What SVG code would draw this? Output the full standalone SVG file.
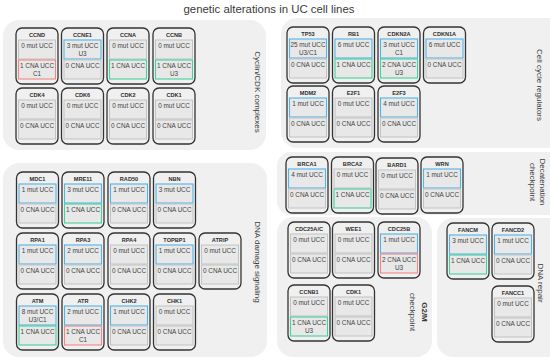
<svg xmlns="http://www.w3.org/2000/svg" width="550" height="361" viewBox="0 0 550 361">
<style>
text{font-family:"Liberation Sans","DejaVu Sans",sans-serif;fill:#3a3a3a}
.panel{fill:#f0f0f0;stroke:none}
.card{fill:#f0f0f0;stroke:#333333;stroke-width:1.3}
.t{font-size:5.6px;font-weight:bold;text-anchor:middle;fill:#2e2e2e}
.b{font-size:6.4px;text-anchor:middle;fill:#444444}
.g{fill:#e8e8e8;stroke:#c2c2c2;stroke-width:1}
.bl{fill:#e8e8e8;stroke:#52b4e6;stroke-width:1.1}
.gr{fill:#e8e8e8;stroke:#43d29c;stroke-width:1.1}
.rd{fill:#e8e8e8;stroke:#f08585;stroke-width:1.1}
.lab{font-size:8px;text-anchor:middle;dominant-baseline:central}
.title{font-size:11.4px;text-anchor:middle}
</style>
<defs>
<rect id="cd" class="card" x="0" y="0" width="42" height="56" rx="6"/>
</defs>
<rect width="550" height="361" fill="#ffffff"/>
<text class="title" x="269" y="13">genetic alterations in UC cell lines</text>

<g id="panels">
<rect class="panel" x="3" y="20" width="263" height="130" rx="16"/>
<rect class="panel" x="281" y="18" width="290" height="130" rx="16"/>
<rect class="panel" x="277" y="152" width="290" height="63" rx="14"/>
<rect class="panel" x="3" y="163" width="264" height="194" rx="16"/>
<rect class="panel" x="277" y="217" width="155" height="140" rx="16"/>
<rect class="panel" x="437" y="218" width="130" height="139" rx="16"/>
</g>

<g id="labels">
<text class="lab" transform="translate(257,92) rotate(90)">Cyclin/CDK complexes</text>
<text class="lab" transform="translate(539,85) rotate(90)">Cell cycle regulators</text>
<text class="lab" transform="translate(538,182) rotate(90)"><tspan x="0" dy="-5">Decatenation</tspan><tspan x="0" dy="10">checkpoint</tspan></text>
<text class="lab" transform="translate(257,262) rotate(90)">DNA damage signaling</text>
<text class="lab" transform="translate(419,312) rotate(90)"><tspan x="0" dy="-6" font-weight="bold">G2/M</tspan><tspan x="0" dy="12">checkpoint</tspan></text>
<text class="lab" transform="translate(540,283) rotate(90)">DNA repair</text>
</g>

<!-- Cyclin/CDK -->
<g id="CCND" transform="translate(16,28)"><use href="#cd"/><text class="t" x="21" y="9">CCND</text>
<rect class="g" x="2.5" y="12" width="37" height="19"/><text class="b" x="21" y="20">0 mut UCC</text>
<rect class="rd" x="2.5" y="32" width="37" height="19"/><text class="b" x="21" y="40">1 CNA UCC</text><text class="b" x="21" y="48">C1</text></g>
<g id="CCNE1" transform="translate(61.5,28)"><use href="#cd"/><text class="t" x="21" y="9">CCNE1</text>
<rect class="bl" x="2.5" y="12" width="37" height="19"/><text class="b" x="21" y="20">3 mut UCC</text><text class="b" x="21" y="28">U3</text>
<rect class="g" x="2.5" y="32" width="37" height="19"/><text class="b" x="21" y="40">0 CNA UCC</text></g>
<g id="CCNA" transform="translate(107,28)"><use href="#cd"/><text class="t" x="21" y="9">CCNA</text>
<rect class="g" x="2.5" y="12" width="37" height="19"/><text class="b" x="21" y="20">0 mut UCC</text>
<rect class="gr" x="2.5" y="32" width="37" height="19"/><text class="b" x="21" y="40">1 CNA UCC</text></g>
<g id="CCNB" transform="translate(153,28)"><use href="#cd"/><text class="t" x="21" y="9">CCNB</text>
<rect class="g" x="2.5" y="12" width="37" height="19"/><text class="b" x="21" y="20">0 mut UCC</text>
<rect class="gr" x="2.5" y="32" width="37" height="19"/><text class="b" x="21" y="40">1 CNA UCC</text><text class="b" x="21" y="48">U3</text></g>
<g id="CDK4" transform="translate(16,88)"><use href="#cd"/><text class="t" x="21" y="9">CDK4</text>
<rect class="g" x="2.5" y="12" width="37" height="19"/><text class="b" x="21" y="20">0 mut UCC</text>
<rect class="g" x="2.5" y="32" width="37" height="19"/><text class="b" x="21" y="40">0 CNA UCC</text></g>
<g id="CDK6" transform="translate(61.5,88)"><use href="#cd"/><text class="t" x="21" y="9">CDK6</text>
<rect class="g" x="2.5" y="12" width="37" height="19"/><text class="b" x="21" y="20">0 mut UCC</text>
<rect class="g" x="2.5" y="32" width="37" height="19"/><text class="b" x="21" y="40">0 CNA UCC</text></g>
<g id="CDK2" transform="translate(107,88)"><use href="#cd"/><text class="t" x="21" y="9">CDK2</text>
<rect class="g" x="2.5" y="12" width="37" height="19"/><text class="b" x="21" y="20">0 mut UCC</text>
<rect class="g" x="2.5" y="32" width="37" height="19"/><text class="b" x="21" y="40">0 CNA UCC</text></g>
<g id="CDK1a" transform="translate(153,88)"><use href="#cd"/><text class="t" x="21" y="9">CDK1</text>
<rect class="g" x="2.5" y="12" width="37" height="19"/><text class="b" x="21" y="20">0 mut UCC</text>
<rect class="g" x="2.5" y="32" width="37" height="19"/><text class="b" x="21" y="40">0 CNA UCC</text></g>

<!-- Cell cycle regulators -->
<g id="TP53" transform="translate(287,27)"><use href="#cd"/><text class="t" x="21" y="9">TP53</text>
<rect class="bl" x="2.5" y="12" width="37" height="19"/><text class="b" x="21" y="20">25 mut UCC</text><text class="b" x="21" y="28">U3/C1</text>
<rect class="g" x="2.5" y="32" width="37" height="19"/><text class="b" x="21" y="40">0 CNA UCC</text></g>
<g id="RB1" transform="translate(332.5,27)"><use href="#cd"/><text class="t" x="21" y="9">RB1</text>
<rect class="bl" x="2.5" y="12" width="37" height="19"/><text class="b" x="21" y="20">6 mut UCC</text>
<rect class="gr" x="2.5" y="32" width="37" height="19"/><text class="b" x="21" y="40">1 CNA UCC</text></g>
<g id="CDKN2A" transform="translate(378,27)"><use href="#cd"/><text class="t" x="21" y="9">CDKN2A</text>
<rect class="bl" x="2.5" y="12" width="37" height="19"/><text class="b" x="21" y="20">3 mut UCC</text><text class="b" x="21" y="28">C1</text>
<rect class="gr" x="2.5" y="32" width="37" height="19"/><text class="b" x="21" y="40">2 CNA UCC</text><text class="b" x="21" y="48">U3</text></g>
<g id="CDKN1A" transform="translate(423.5,27)"><use href="#cd"/><text class="t" x="21" y="9">CDKN1A</text>
<rect class="bl" x="2.5" y="12" width="37" height="19"/><text class="b" x="21" y="20">6 mut UCC</text>
<rect class="g" x="2.5" y="32" width="37" height="19"/><text class="b" x="21" y="40">0 CNA UCC</text></g>
<g id="MDM2" transform="translate(287,86)"><use href="#cd"/><text class="t" x="21" y="9">MDM2</text>
<rect class="bl" x="2.5" y="12" width="37" height="19"/><text class="b" x="21" y="20">1 mut UCC</text>
<rect class="g" x="2.5" y="32" width="37" height="19"/><text class="b" x="21" y="40">0 CNA UCC</text></g>
<g id="E2F1" transform="translate(332.5,86)"><use href="#cd"/><text class="t" x="21" y="9">E2F1</text>
<rect class="g" x="2.5" y="12" width="37" height="19"/><text class="b" x="21" y="20">0 mut UCC</text>
<rect class="g" x="2.5" y="32" width="37" height="19"/><text class="b" x="21" y="40">0 CNA UCC</text></g>
<g id="E2F3" transform="translate(378,86)"><use href="#cd"/><text class="t" x="21" y="9">E2F3</text>
<rect class="bl" x="2.5" y="12" width="37" height="19"/><text class="b" x="21" y="20">4 mut UCC</text>
<rect class="g" x="2.5" y="32" width="37" height="19"/><text class="b" x="21" y="40">0 CNA UCC</text></g>

<!-- Decatenation checkpoint -->
<g id="BRCA1" transform="translate(286,157)"><use href="#cd"/><text class="t" x="21" y="9">BRCA1</text>
<rect class="bl" x="2.5" y="12" width="37" height="19"/><text class="b" x="21" y="20">4 mut UCC</text>
<rect class="g" x="2.5" y="32" width="37" height="19"/><text class="b" x="21" y="40">0 CNA UCC</text></g>
<g id="BRCA2" transform="translate(331.5,157)"><use href="#cd"/><text class="t" x="21" y="9">BRCA2</text>
<rect class="g" x="2.5" y="12" width="37" height="19"/><text class="b" x="21" y="20">0 mut UCC</text>
<rect class="gr" x="2.5" y="32" width="37" height="19"/><text class="b" x="21" y="40">1 CNA UCC</text></g>
<g id="BARD1" transform="translate(376,158)"><use href="#cd"/><text class="t" x="21" y="9">BARD1</text>
<rect class="g" x="2.5" y="12" width="37" height="19"/><text class="b" x="21" y="20">0 mut UCC</text>
<rect class="g" x="2.5" y="32" width="37" height="19"/><text class="b" x="21" y="40">0 CNA UCC</text></g>
<g id="WRN" transform="translate(421,157)"><use href="#cd"/><text class="t" x="21" y="9">WRN</text>
<rect class="bl" x="2.5" y="12" width="37" height="19"/><text class="b" x="21" y="20">1 mut UCC</text>
<rect class="g" x="2.5" y="32" width="37" height="19"/><text class="b" x="21" y="40">0 CNA UCC</text></g>

<!-- DNA damage signaling -->
<g id="MDC1" transform="translate(16.5,172)"><use href="#cd"/><text class="t" x="21" y="9">MDC1</text>
<rect class="bl" x="2.5" y="12" width="37" height="19"/><text class="b" x="21" y="20">1 mut UCC</text>
<rect class="g" x="2.5" y="32" width="37" height="19"/><text class="b" x="21" y="40">0 CNA UCC</text></g>
<g id="MRE11" transform="translate(62,172)"><use href="#cd"/><text class="t" x="21" y="9">MRE11</text>
<rect class="bl" x="2.5" y="12" width="37" height="19"/><text class="b" x="21" y="20">3 mut UCC</text>
<rect class="gr" x="2.5" y="32" width="37" height="19"/><text class="b" x="21" y="40">1 CNA UCC</text></g>
<g id="RAD50" transform="translate(108,172)"><use href="#cd"/><text class="t" x="21" y="9">RAD50</text>
<rect class="bl" x="2.5" y="12" width="37" height="19"/><text class="b" x="21" y="20">1 mut UCC</text>
<rect class="g" x="2.5" y="32" width="37" height="19"/><text class="b" x="21" y="40">0 CNA UCC</text></g>
<g id="NBN" transform="translate(153.5,172)"><use href="#cd"/><text class="t" x="21" y="9">NBN</text>
<rect class="bl" x="2.5" y="12" width="37" height="19"/><text class="b" x="21" y="20">3 mut UCC</text>
<rect class="g" x="2.5" y="32" width="37" height="19"/><text class="b" x="21" y="40">0 CNA UCC</text></g>
<g id="RPA1" transform="translate(16.5,233)"><use href="#cd"/><text class="t" x="21" y="9">RPA1</text>
<rect class="bl" x="2.5" y="12" width="37" height="19"/><text class="b" x="21" y="20">1 mut UCC</text>
<rect class="g" x="2.5" y="32" width="37" height="19"/><text class="b" x="21" y="40">0 CNA UCC</text></g>
<g id="RPA3" transform="translate(62,233)"><use href="#cd"/><text class="t" x="21" y="9">RPA3</text>
<rect class="bl" x="2.5" y="12" width="37" height="19"/><text class="b" x="21" y="20">2 mut UCC</text>
<rect class="g" x="2.5" y="32" width="37" height="19"/><text class="b" x="21" y="40">0 CNA UCC</text></g>
<g id="RPA4" transform="translate(108,233)"><use href="#cd"/><text class="t" x="21" y="9">RPA4</text>
<rect class="g" x="2.5" y="12" width="37" height="19"/><text class="b" x="21" y="20">0 mut UCC</text>
<rect class="g" x="2.5" y="32" width="37" height="19"/><text class="b" x="21" y="40">0 CNA UCC</text></g>
<g id="TOPBP1" transform="translate(153.5,233)"><use href="#cd"/><text class="t" x="21" y="9">TOPBP1</text>
<rect class="bl" x="2.5" y="12" width="37" height="19"/><text class="b" x="21" y="20">1 mut UCC</text>
<rect class="g" x="2.5" y="32" width="37" height="19"/><text class="b" x="21" y="40">0 CNA UCC</text></g>
<g id="ATRIP" transform="translate(199,233)"><use href="#cd"/><text class="t" x="21" y="9">ATRIP</text>
<rect class="g" x="2.5" y="12" width="37" height="19"/><text class="b" x="21" y="20">0 mut UCC</text>
<rect class="g" x="2.5" y="32" width="37" height="19"/><text class="b" x="21" y="40">0 CNA UCC</text></g>
<g id="ATM" transform="translate(16.5,294)"><use href="#cd"/><text class="t" x="21" y="9">ATM</text>
<rect class="bl" x="2.5" y="12" width="37" height="19"/><text class="b" x="21" y="20">8 mut UCC</text><text class="b" x="21" y="28">U3/C1</text>
<rect class="gr" x="2.5" y="32" width="37" height="19"/><text class="b" x="21" y="40">1 CNA UCC</text></g>
<g id="ATR" transform="translate(62,294)"><use href="#cd"/><text class="t" x="21" y="9">ATR</text>
<rect class="bl" x="2.5" y="12" width="37" height="19"/><text class="b" x="21" y="20">2 mut UCC</text>
<rect class="rd" x="2.5" y="32" width="37" height="19"/><text class="b" x="21" y="40">1 CNA UCC</text><text class="b" x="21" y="48">C1</text></g>
<g id="CHK2" transform="translate(108,294)"><use href="#cd"/><text class="t" x="21" y="9">CHK2</text>
<rect class="bl" x="2.5" y="12" width="37" height="19"/><text class="b" x="21" y="20">1 mut UCC</text>
<rect class="g" x="2.5" y="32" width="37" height="19"/><text class="b" x="21" y="40">0 CNA UCC</text></g>
<g id="CHK1" transform="translate(153.5,294)"><use href="#cd"/><text class="t" x="21" y="9">CHK1</text>
<rect class="g" x="2.5" y="12" width="37" height="19"/><text class="b" x="21" y="20">0 mut UCC</text>
<rect class="g" x="2.5" y="32" width="37" height="19"/><text class="b" x="21" y="40">0 CNA UCC</text></g>

<!-- G2/M checkpoint -->
<g id="CDC25AC" transform="translate(288,222)"><use href="#cd"/><text class="t" x="21" y="9">CDC25A/C</text>
<rect class="g" x="2.5" y="12" width="37" height="19"/><text class="b" x="21" y="20">0 mut UCC</text>
<rect class="g" x="2.5" y="32" width="37" height="19"/><text class="b" x="21" y="40">0 CNA UCC</text></g>
<g id="WEE1" transform="translate(332.5,222)"><use href="#cd"/><text class="t" x="21" y="9">WEE1</text>
<rect class="g" x="2.5" y="12" width="37" height="19"/><text class="b" x="21" y="20">0 mut UCC</text>
<rect class="g" x="2.5" y="32" width="37" height="19"/><text class="b" x="21" y="40">0 CNA UCC</text></g>
<g id="CDC25B" transform="translate(378,222)"><use href="#cd"/><text class="t" x="21" y="9">CDC25B</text>
<rect class="bl" x="2.5" y="12" width="37" height="19"/><text class="b" x="21" y="20">1 mut UCC</text>
<rect class="rd" x="2.5" y="32" width="37" height="19"/><text class="b" x="21" y="40">2 CNA UCC</text><text class="b" x="21" y="48">U3</text></g>
<g id="CCNB1" transform="translate(288,285)"><use href="#cd"/><text class="t" x="21" y="9">CCNB1</text>
<rect class="g" x="2.5" y="12" width="37" height="19"/><text class="b" x="21" y="20">0 mut UCC</text>
<rect class="gr" x="2.5" y="32" width="37" height="19"/><text class="b" x="21" y="40">1 CNA UCC</text><text class="b" x="21" y="48">U3</text></g>
<g id="CDK1b" transform="translate(332.5,285)"><use href="#cd"/><text class="t" x="21" y="9">CDK1</text>
<rect class="g" x="2.5" y="12" width="37" height="19"/><text class="b" x="21" y="20">0 mut UCC</text>
<rect class="g" x="2.5" y="32" width="37" height="19"/><text class="b" x="21" y="40">0 CNA UCC</text></g>

<!-- DNA repair -->
<g id="FANCM" transform="translate(447,223)"><use href="#cd"/><text class="t" x="21" y="9">FANCM</text>
<rect class="bl" x="2.5" y="12" width="37" height="19"/><text class="b" x="21" y="20">3 mut UCC</text>
<rect class="gr" x="2.5" y="32" width="37" height="19"/><text class="b" x="21" y="40">1 CNA UCC</text></g>
<g id="FANCD2" transform="translate(492,223)"><use href="#cd"/><text class="t" x="21" y="9">FANCD2</text>
<rect class="bl" x="2.5" y="12" width="37" height="19"/><text class="b" x="21" y="20">1 mut UCC</text>
<rect class="g" x="2.5" y="32" width="37" height="19"/><text class="b" x="21" y="40">0 CNA UCC</text></g>
<g id="FANCC1" transform="translate(492,286)"><use href="#cd"/><text class="t" x="21" y="9">FANCC1</text>
<rect class="g" x="2.5" y="12" width="37" height="19"/><text class="b" x="21" y="20">0 mut UCC</text>
<rect class="g" x="2.5" y="32" width="37" height="19"/><text class="b" x="21" y="40">0 CNA UCC</text></g>
</svg>
